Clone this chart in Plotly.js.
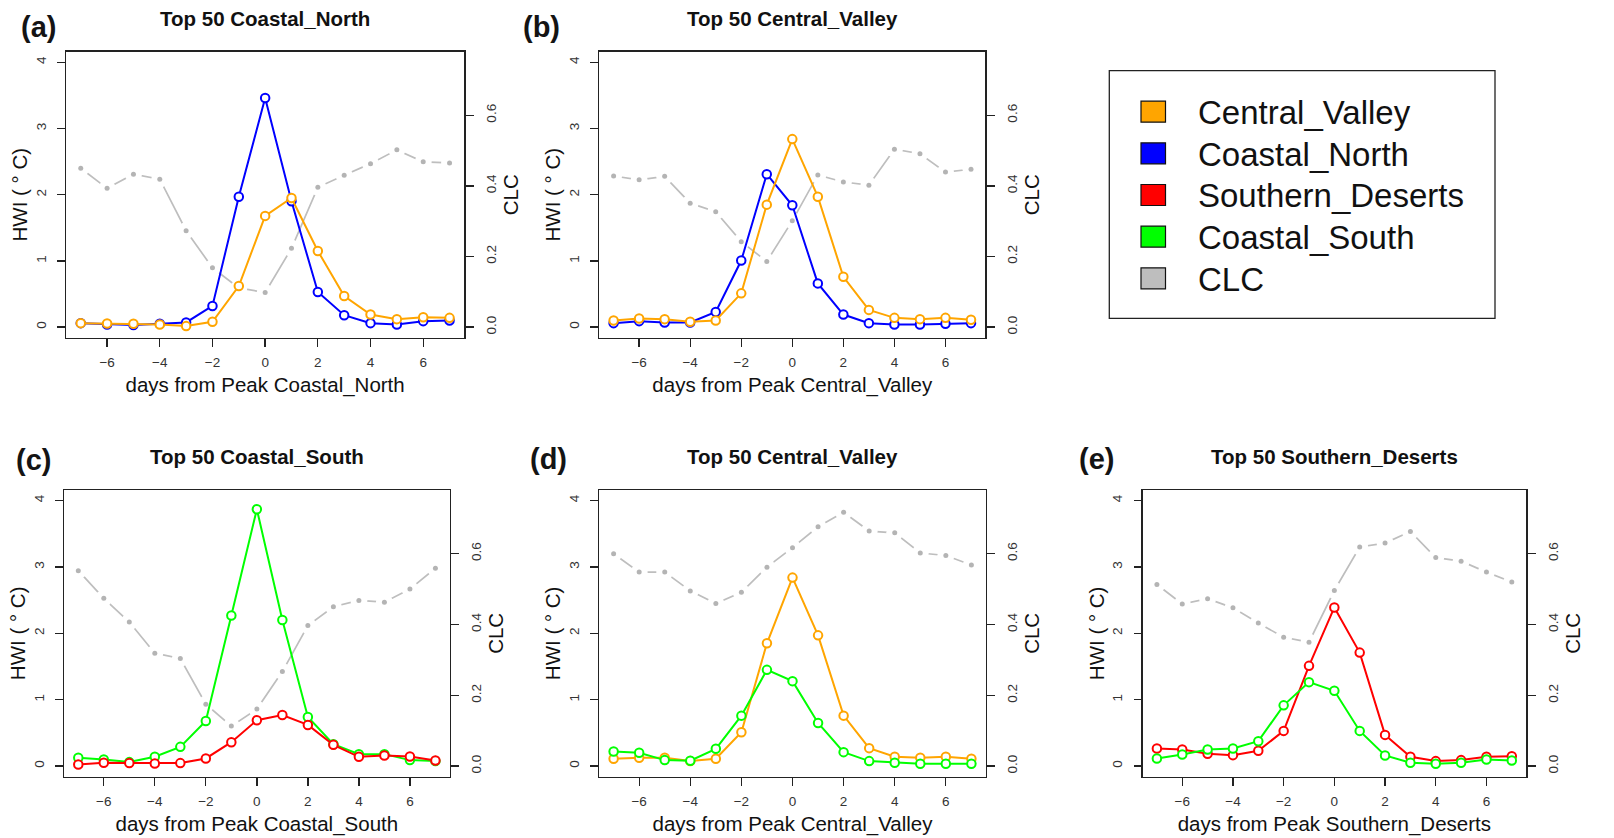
<!DOCTYPE html>
<html>
<head>
<meta charset="utf-8">
<script src="https://cdn.plot.ly/plotly-3.0.1.min.js"></script>
<style>html,body{margin:0;padding:0;background:#fff;}#chart{width:1614px;height:838px;}</style>
</head>
<body>
<div id="chart"></div>
<script>
// ---------------- data ----------------
const days = [-7,-6,-5,-4,-3,-2,-1,0,1,2,3,4,5,6,7];
const xTicks = [-6,-4,-2,0,2,4,6];
const hwiTicks = [0,1,2,3,4];
const clcTicks = [0,0.2,0.4,0.6];
const clcTickText = ['0.0','0.2','0.4','0.6'];

// (a) Top 50 Coastal_North
const a_CoastalNorth   = [0.06,0.04,0.03,0.05,0.07,0.32,1.97,3.46,1.90,0.53,0.18,0.06,0.04,0.09,0.10];
const a_CentralValley  = [0.06,0.055,0.05,0.04,0.015,0.08,0.62,1.68,1.95,1.15,0.47,0.19,0.12,0.15,0.14];
const a_CLC            = [0.450,0.393,0.433,0.419,0.273,0.168,0.111,0.098,0.223,0.396,0.430,0.463,0.502,0.468,0.465];
// (b) Top 50 Central_Valley
const b_CoastalNorth   = [0.06,0.09,0.07,0.07,0.23,1.005,2.31,1.84,0.66,0.19,0.06,0.04,0.04,0.05,0.06];
const b_CentralValley  = [0.10,0.13,0.12,0.08,0.10,0.51,1.85,2.84,1.97,0.76,0.26,0.14,0.12,0.14,0.11];
const b_CLC            = [0.428,0.417,0.427,0.351,0.327,0.242,0.186,0.301,0.431,0.411,0.402,0.504,0.491,0.439,0.447];
// (c) Top 50 Coastal_South
const c_CoastalSouth   = [0.125,0.10,0.06,0.14,0.29,0.68,2.27,3.87,2.20,0.74,0.33,0.18,0.18,0.09,0.075];
const c_SouthernDeserts= [0.025,0.05,0.045,0.04,0.045,0.115,0.36,0.69,0.77,0.62,0.32,0.14,0.16,0.145,0.085];
const c_CLC            = [0.552,0.474,0.407,0.319,0.304,0.175,0.113,0.161,0.267,0.397,0.450,0.468,0.463,0.500,0.559];
// (d) Top 50 Central_Valley
const d_CentralValley  = [0.11,0.125,0.125,0.075,0.11,0.51,1.85,2.84,1.97,0.76,0.27,0.14,0.125,0.14,0.11];
const d_CoastalSouth   = [0.22,0.20,0.09,0.08,0.26,0.76,1.45,1.28,0.65,0.21,0.075,0.05,0.035,0.035,0.035];
const d_CLC            = [0.600,0.548,0.548,0.495,0.459,0.491,0.562,0.617,0.676,0.717,0.664,0.659,0.602,0.595,0.568];
// (e) Top 50 Southern_Deserts
const e_SouthernDeserts= [0.265,0.25,0.185,0.165,0.23,0.53,1.51,2.39,1.71,0.47,0.14,0.075,0.09,0.14,0.15];
const e_CoastalSouth   = [0.115,0.175,0.25,0.265,0.375,0.915,1.265,1.135,0.53,0.16,0.05,0.035,0.05,0.10,0.085];
const e_CLC            = [0.513,0.458,0.473,0.447,0.404,0.364,0.350,0.496,0.619,0.630,0.663,0.589,0.579,0.548,0.520];

const legendNames = ['Central_Valley','Coastal_North','Southern_Deserts','Coastal_South','CLC'];
const colors = {Central_Valley:'#FFA500', Coastal_North:'#0000FF', Southern_Deserts:'#FF0000', Coastal_South:'#00FF00', CLC:'#BEBEBE'};

const panels = [
  {tag:'(a)', title:'Top 50 Coastal_North',    xlab:'days from Peak Coastal_North',    series:[['Coastal_North',a_CoastalNorth],['Central_Valley',a_CentralValley]], clc:a_CLC},
  {tag:'(b)', title:'Top 50 Central_Valley',   xlab:'days from Peak Central_Valley',   series:[['Coastal_North',b_CoastalNorth],['Central_Valley',b_CentralValley]], clc:b_CLC},
  {tag:'(c)', title:'Top 50 Coastal_South',    xlab:'days from Peak Coastal_South',    series:[['Coastal_South',c_CoastalSouth],['Southern_Deserts',c_SouthernDeserts]], clc:c_CLC},
  {tag:'(d)', title:'Top 50 Central_Valley',   xlab:'days from Peak Central_Valley',   series:[['Central_Valley',d_CentralValley],['Coastal_South',d_CoastalSouth]], clc:d_CLC},
  {tag:'(e)', title:'Top 50 Southern_Deserts', xlab:'days from Peak Southern_Deserts', series:[['Southern_Deserts',e_SouthernDeserts],['Coastal_South',e_CoastalSouth]], clc:e_CLC}
];

// ---------------- layout geometry (pixels) ----------------
const W = 1614, H = 838;
const boxes = [[66,464.3,51.7,337.7],[599.3,985.3,51.7,337.7],[64,449.7,490,776.7],[599.3,985.7,490,776.7],[1142.7,1526,490,776.7]];
const tagPos = [[38,27],[541,27],[33,460],[548,459],[1096,459]];
const titleY = [18,19,456,456.7,456.7];
const px = x => x / W;
const py = y => 1 - y / H;

const FONT = 'Liberation Sans, Arial, Helvetica, sans-serif';
const INK = '#222';

const traces = [];
const layout = {
  width: W, height: H,
  margin: {l:0, r:0, t:0, b:0},
  paper_bgcolor: '#fff', plot_bgcolor: 'rgba(0,0,0,0)',
  showlegend: false, hovermode: false,
  font: {family: FONT, color: INK},
  annotations: [], shapes: []
};

panels.forEach((p, i) => {
  const n = i + 1;
  const xa = 'x' + n;
  const yClc = 'y' + (2*n - 1);   // base axis: CLC (right) -> drawn first
  const yHwi = 'y' + (2*n);       // overlay axis: HWI (left) -> drawn on top
  const b = boxes[i];
  const xdom = [px(b[0]), px(b[1])];
  const ydom = [py(b[3]), py(b[2])];

  // CLC: line, then white discs to open gaps around the points, then small grey dots
  traces.push({x: days, y: p.clc, xaxis: xa, yaxis: yClc, type: 'scatter', mode: 'lines',
    line: {color: colors.CLC, width: 1.7}, cliponaxis: false});
  traces.push({x: days, y: p.clc, xaxis: xa, yaxis: yClc, type: 'scatter', mode: 'markers',
    marker: {color: '#ffffff', size: 17, opacity: 1, line: {width: 0}}, cliponaxis: false});
  traces.push({x: days, y: p.clc, xaxis: xa, yaxis: yClc, type: 'scatter', mode: 'markers',
    marker: {color: '#B4B4B4', size: 5, line: {width: 0}}, cliponaxis: false});

  p.series.forEach(([name, vals]) => {
    traces.push({x: days, y: vals, xaxis: xa, yaxis: yHwi, type: 'scatter', mode: 'lines+markers', name: name,
      line: {color: colors[name], width: 2},
      marker: {symbol: 'circle', size: 8.5, color: '#ffffff', line: {color: colors[name], width: 2}}, cliponaxis: false});
  });

  const common = {showgrid: false, zeroline: false, ticks: 'outside', ticklen: 8, tickwidth: 1.3, tickcolor: INK,
    tickfont: {size: 13.5, color: '#333', family: FONT}, automargin: false, fixedrange: true};

  layout['xaxis' + n] = Object.assign({}, common, {
    domain: xdom, anchor: yClc, range: [-7.56, 7.56], tickmode: 'array', tickvals: xTicks,
    showline: true, mirror: true, linecolor: INK, linewidth: 1.5, ticklabelstandoff: 4,
    title: {text: p.xlab, font: {size: 20.5, color: '#111', family: FONT}, standoff: 8}
  });
  layout['yaxis' + (2*n - 1)] = Object.assign({}, common, {
    domain: ydom, anchor: xa, side: 'right', range: [-0.03, 0.78], tickmode: 'array',
    tickvals: clcTicks, ticktext: clcTickText, tickangle: -90, ticklabelstandoff: 6,
    showline: true, mirror: true, linecolor: INK, linewidth: 1.5,
    title: {text: 'CLC', font: {size: 20.5, color: '#111', family: FONT}, standoff: 5}
  });
  layout['yaxis' + (2*n)] = Object.assign({}, common, {
    domain: ydom, anchor: xa, overlaying: yClc, side: 'left', range: [-0.16, 4.16], tickmode: 'array',
    tickvals: hwiTicks, tickangle: -90, ticklabelstandoff: 6, showline: false,
    title: {text: 'HWI ( ° C)', font: {size: 20.5, color: '#111', family: FONT}, standoff: 0}
  });

  // panel title and tag
  layout.annotations.push({xref: 'paper', yref: 'paper', x: px((b[0]+b[1])/2), y: py(titleY[i]),
    xanchor: 'center', yanchor: 'middle', showarrow: false, text: p.title,
    font: {size: 20.5, family: FONT, color: '#111', weight: 'bold'}});
  layout.annotations.push({xref: 'paper', yref: 'paper', x: px(tagPos[i][0]), y: py(tagPos[i][1]),
    xanchor: 'center', yanchor: 'middle', showarrow: false, text: p.tag,
    font: {size: 29, family: FONT, color: '#141414', weight: 'bold'}});
});

// ---------------- legend (box, swatches, labels) ----------------
const legBox = [1109.3, 1495, 70.7, 318.3];
layout.shapes.push({type: 'rect', xref: 'paper', yref: 'paper', x0: px(legBox[0]), x1: px(legBox[1]),
  y0: py(legBox[3]), y1: py(legBox[2]), line: {color: INK, width: 1.3}, fillcolor: 'rgba(0,0,0,0)'});
const legRow0 = 111.7, legStep = 41.65;
legendNames.forEach((name, k) => {
  const yc = legRow0 + k * legStep;
  layout.shapes.push({type: 'rect', xref: 'paper', yref: 'paper', x0: px(1141), x1: px(1165.5),
    y0: py(yc + 10.5), y1: py(yc - 10.5), line: {color: '#111', width: 1.2}, fillcolor: colors[name]});
  layout.annotations.push({xref: 'paper', yref: 'paper', x: px(1196), y: py(yc + 1), xanchor: 'left', yanchor: 'middle',
    showarrow: false, text: name, font: {size: 33, family: FONT, color: '#111'}});
});

Plotly.newPlot('chart', traces, layout, {staticPlot: true, displayModeBar: false});
</script>
</body>
</html>
